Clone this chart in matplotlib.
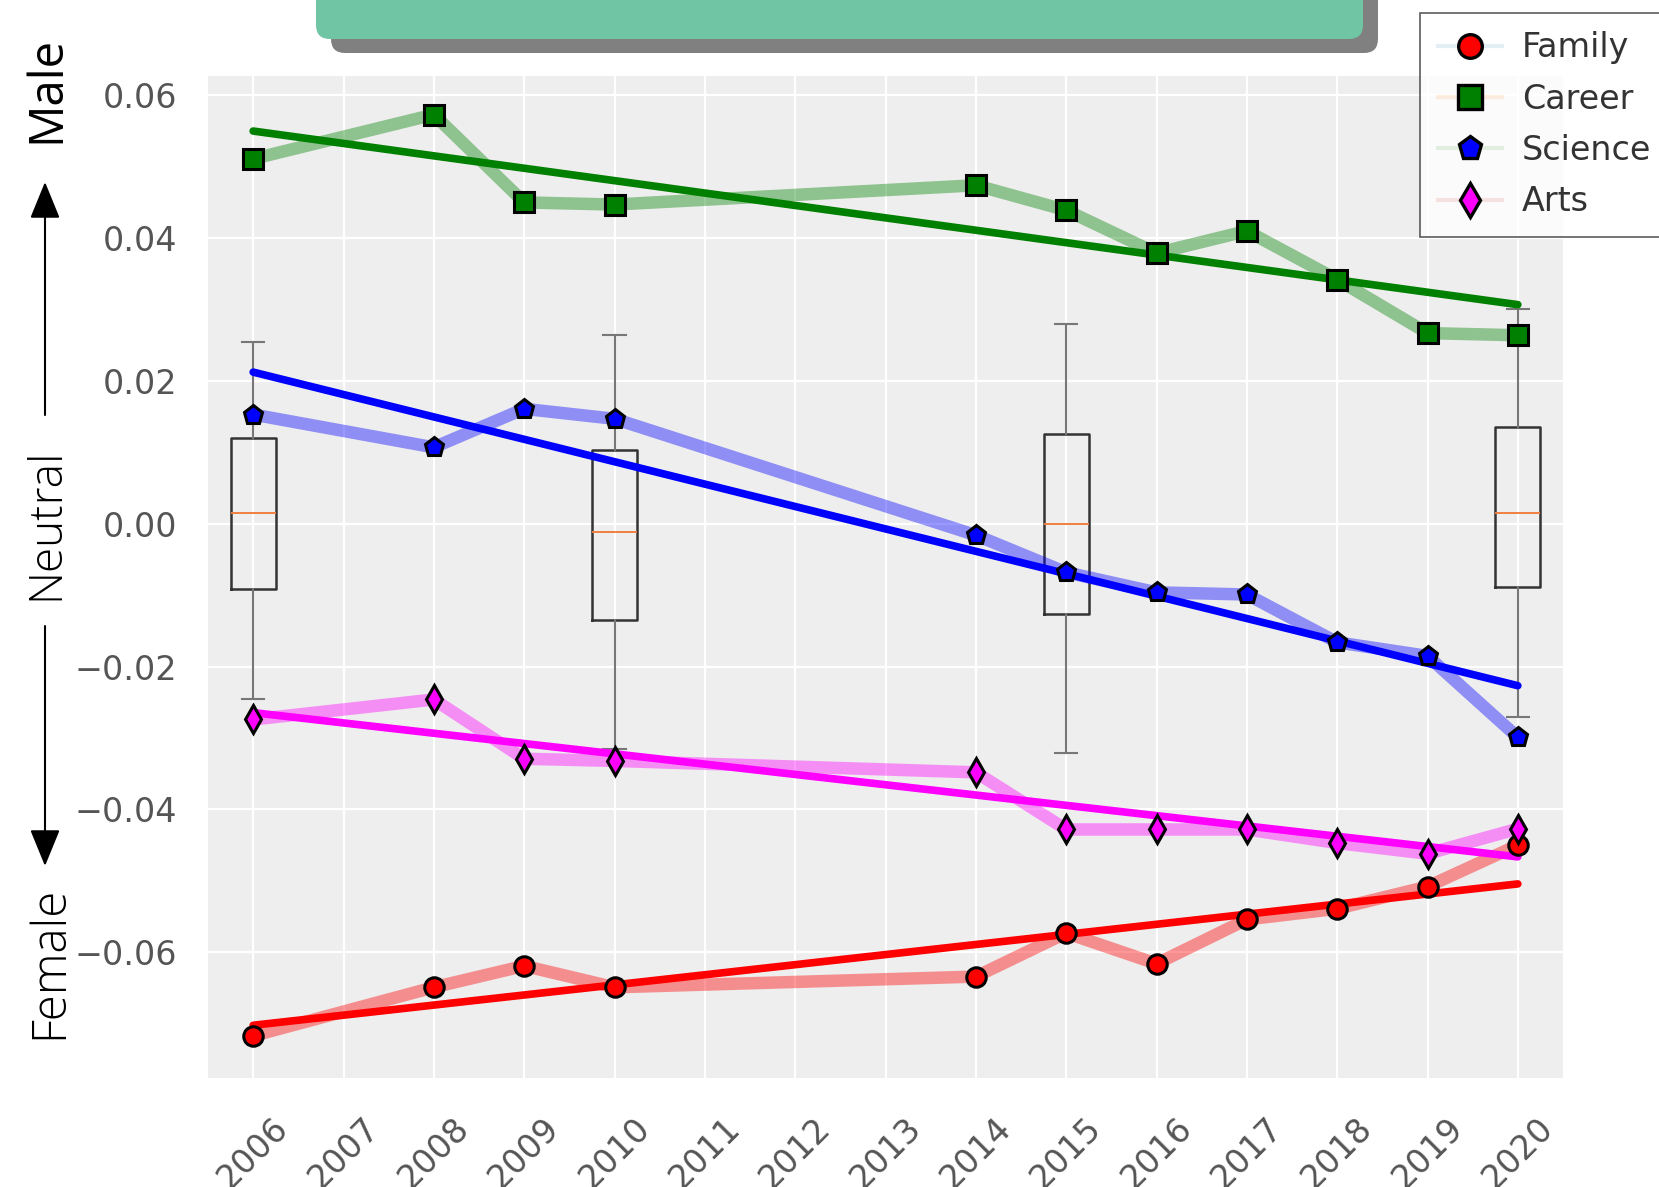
import numpy as np
import matplotlib
matplotlib.use("Agg")
import matplotlib.pyplot as plt
from matplotlib.lines import Line2D
from matplotlib.patches import FancyBboxPatch, FancyArrowPatch
from matplotlib.transforms import IdentityTransform

# ── Data ───────────────────────────────────────────────
years = [2006, 2008, 2009, 2010, 2014, 2015, 2016, 2017, 2018, 2019, 2020]

family  = [-0.0717, -0.0649, -0.0619, -0.0649, -0.0634, -0.0573,
           -0.0616, -0.0554, -0.0539, -0.0508, -0.0450]
career  = [0.0511, 0.0573, 0.0450, 0.0447, 0.0474, 0.0439,
           0.0379, 0.0410, 0.0342, 0.0267, 0.0264]
science = [0.0153, 0.0107, 0.0161, 0.0147, -0.0016, -0.0068,
           -0.0096, -0.0099, -0.0166, -0.0185, -0.0299]
arts    = [-0.0274, -0.0246, -0.0329, -0.0332, -0.0348, -0.0428,
           -0.0428, -0.0428, -0.0447, -0.0462, -0.0427]

# overall distribution per sampled year (whisker low, Q1, median, Q3, whisker high)
box_years = [2006, 2010, 2015, 2020]
box_wlo   = [-0.0246, -0.0315, -0.0321, -0.0270]
box_q1    = [-0.0092, -0.0135, -0.0127, -0.0089]
box_med   = [0.0015, -0.0012, 0.0000, 0.0015]
box_q3    = [0.0120, 0.0104, 0.0126, 0.0135]
box_whi   = [0.0255, 0.0265, 0.0280, 0.0301]

tick_years = list(range(2006, 2021))

series = [
    ("Family",  family,  "red",     "o", "#1f77b4"),
    ("Career",  career,  "green",   "s", "#ff7f0e"),
    ("Science", science, "blue",    "p", "#2ca02c"),
    ("Arts",    arts,    "magenta", "d", "#d62728"),
]

# ── Figure ─────────────────────────────────────────────
W, H = 1659, 1187
fig = plt.figure(figsize=(W / 100, H / 100), dpi=100)
ax = fig.add_axes([208 / W, 1 - 1078 / H, (1563 - 208) / W, (1078 - 76) / H])
ax.set_facecolor("#EEEEEE")
for s in ax.spines.values():
    s.set_visible(False)
ax.grid(True, color="white", linewidth=1.6)
ax.set_axisbelow(True)

# boxplots
stats = [dict(whislo=a, q1=b, med=c, q3=d, whishi=e, fliers=[])
         for a, b, c, d, e in zip(box_wlo, box_q1, box_med, box_q3, box_whi)]
ax.bxp(stats, positions=box_years, widths=0.5, showfliers=False,
       manage_ticks=False,
       boxprops=dict(color="#333333", linewidth=1.8),
       whiskerprops=dict(color="#777777", linewidth=1.5),
       capprops=dict(color="#777777", linewidth=1.5),
       medianprops=dict(color="#F07F40", linewidth=1.4))

x = np.array(years, dtype=float)
for name, vals, col, mk, _ in series:
    ax.plot(x, vals, color=col, alpha=0.4, linewidth=9, zorder=3,
            solid_capstyle="round")
    coef = np.polyfit(x, vals, 1)
    xs = np.array([x.min(), x.max()])
    ax.plot(xs, np.polyval(coef, xs), color=col, linewidth=5.5, zorder=4,
            solid_capstyle="round")
    ax.plot(x, vals, linestyle="none", marker=mk, markersize=14,
            markerfacecolor=col, markeredgecolor="black",
            markeredgewidth=2.2, zorder=5)

ax.set_xlim(2005.5, 2020.5)
ax.set_ylim(-0.0776, 0.0627)
ax.set_yticks([-0.06, -0.04, -0.02, 0.0, 0.02, 0.04, 0.06])
ax.set_xticks(tick_years)
ax.set_xticklabels([str(y) for y in tick_years], rotation=45)
ax.tick_params(length=0, labelsize=24, labelcolor="#555555")
ax.tick_params(axis="y", pad=22)
ax.tick_params(axis="x", pad=24)

# legend
handles = []
for name, vals, col, mk, lc in series:
    rgba = matplotlib.colors.to_rgba(lc, 0.12)
    handles.append(Line2D([0], [0], color=rgba, linewidth=3, marker=mk,
                          markersize=17, markerfacecolor=col,
                          markeredgecolor="black", markeredgewidth=2.4))
leg = fig.legend(handles, [s[0] for s in series], loc="upper left",
                 bbox_to_anchor=(1420 / W, 1 - 13 / H), borderaxespad=0,
                 fontsize=24, frameon=True, fancybox=False,
                 edgecolor="#333333", borderpad=0.55, labelspacing=0.55,
                 handletextpad=0.6, handlelength=1.9)
for t in leg.get_texts():
    t.set_color("#333333")
leg.get_frame().set_linewidth(1.2)

# ── Title banner (mostly outside the canvas) ──────────
shadow = FancyBboxPatch((331, H - 53), 1047, 200,
                        boxstyle="round,pad=0,rounding_size=14",
                        transform=IdentityTransform(), facecolor="#808080",
                        edgecolor="none", zorder=1)
banner = FancyBboxPatch((316, H - 39), 1047, 200,
                        boxstyle="round,pad=0,rounding_size=14",
                        transform=IdentityTransform(), facecolor="#6FC5A4",
                        edgecolor="none", zorder=2)
fig.add_artist(shadow)
fig.add_artist(banner)
fig.text(840 / W, 1 - 2 / H, "Gender Bias Over Time", color="white",
         fontsize=44, fontweight="bold", ha="center", va="bottom", zorder=3)

# ── Male / Neutral / Female guide ──────────────────────
side_font = ["Open Sans", "DejaVu Sans"]
fig.text(47 / W, 1 - 89 / H, "Male", rotation=90, fontsize=34,
         family=side_font, ha="center", va="center", color="black")
fig.text(46 / W, 1 - 524 / H, "Neutral", rotation=90, fontsize=33,
         family=side_font, fontweight="light", ha="center", va="center",
         color="black")
fig.text(50 / W, 1 - 962 / H, "Female", rotation=90, fontsize=34,
         family=side_font, fontweight="light", ha="center", va="center",
         color="black")

for y0, y1 in [(415, 182), (626, 866)]:
    arr = FancyArrowPatch((45 / W, 1 - y0 / H), (45 / W, 1 - y1 / H),
                          transform=fig.transFigure,
                          arrowstyle="-|>,head_length=1.15,head_width=0.47",
                          mutation_scale=20, color="black", linewidth=1.5,
                          shrinkA=0, shrinkB=0)
    fig.add_artist(arr)

fig.savefig("out.png", dpi=100)
